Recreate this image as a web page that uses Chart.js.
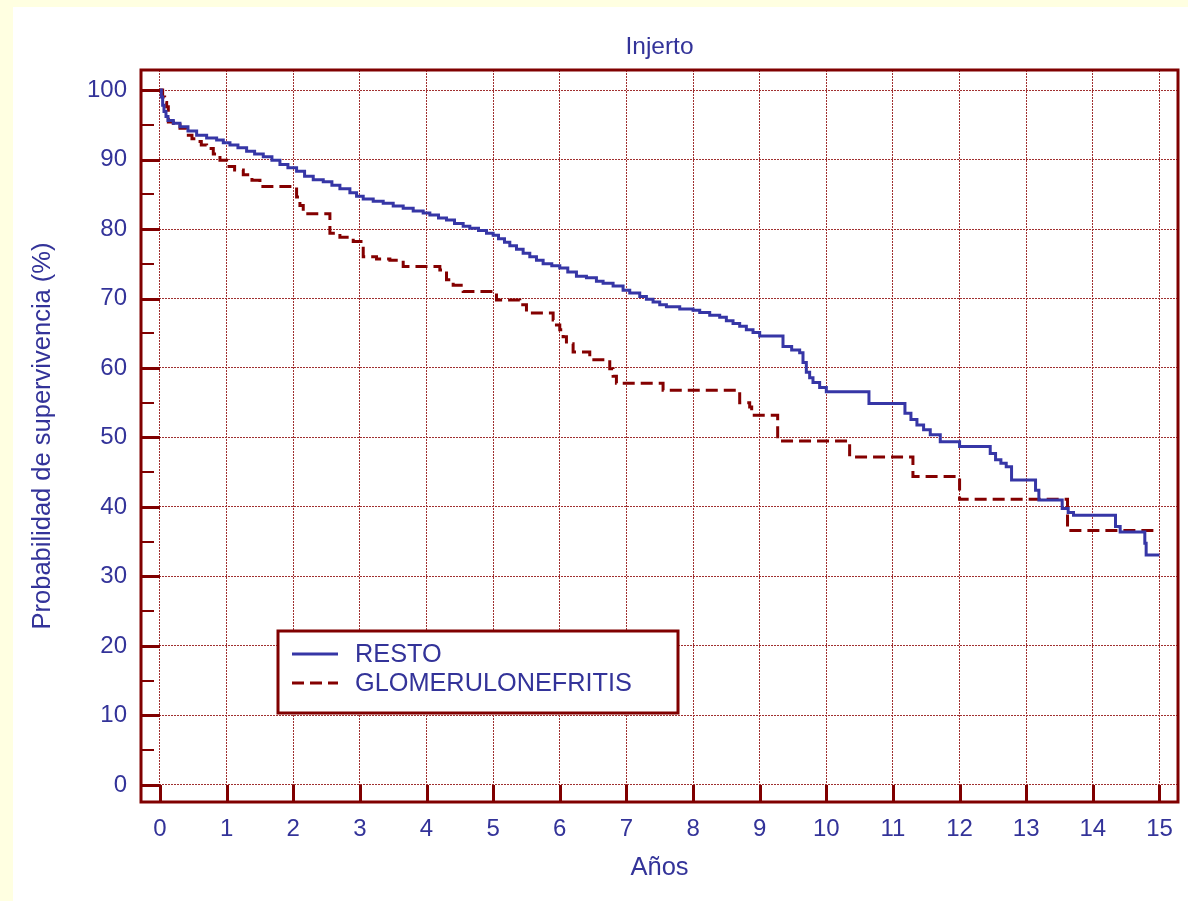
<!DOCTYPE html>
<html>
<head>
<meta charset="utf-8">
<title>Injerto</title>
<script src="https://cdn.jsdelivr.net/npm/chart.js@4.4.0/dist/chart.umd.min.js"></script>
<style>
  html, body { margin: 0; padding: 0; background: #ffffe1; }
  #panel { position: absolute; left: 13px; top: 7px; width: 1175px; height: 894px; background: #fff; }
  canvas { display: block; }
</style>
</head>
<body>
<div id="panel"><canvas id="myChart" width="1175" height="894"></canvas></div>
<script>
// Kaplan-Meier steps: time (years) and survival (%) after each drop
const restoYears = [0, 0.02, 0.04, 0.06, 0.09, 0.12, 0.2, 0.3, 0.42, 0.55, 0.7, 0.85, 0.95, 1.05, 1.17, 1.3,
  1.42, 1.55, 1.68, 1.8, 1.92, 2.05, 2.17, 2.3, 2.45, 2.58, 2.7, 2.85, 2.95, 3.05, 3.2, 3.35, 3.5, 3.65,
  3.8, 3.95, 4.05, 4.18, 4.3, 4.42, 4.55, 4.65, 4.78, 4.9, 5.0, 5.08, 5.17, 5.25, 5.35, 5.45, 5.55, 5.65,
  5.75, 5.88, 6.0, 6.12, 6.25, 6.4, 6.55, 6.65, 6.8, 6.95, 7.05, 7.2, 7.3, 7.4, 7.5, 7.6, 7.8, 8.0,
  8.1, 8.25, 8.4, 8.5, 8.6, 8.7, 8.8, 8.9, 9.0, 9.35, 9.48, 9.6, 9.65, 9.7, 9.75, 9.8, 9.9, 10.0,
  10.64, 11.18, 11.27, 11.36, 11.46, 11.56, 11.71, 12.0, 12.46, 12.54, 12.62, 12.7, 12.78, 13.14, 13.19,
  13.54, 13.63, 13.71, 14.34, 14.41, 14.78, 14.8, 15.0];
const restoSurv = [100, 99.0, 97.8, 96.9, 96.2, 95.6, 95.2, 94.7, 94.1, 93.5, 93.1, 92.8, 92.4, 92.1, 91.7, 91.2,
  90.8, 90.4, 89.9, 89.3, 88.8, 88.3, 87.6, 87.1, 86.8, 86.3, 85.8, 85.2, 84.7, 84.3, 84.0, 83.7, 83.3, 83.0,
  82.6, 82.3, 82.0, 81.6, 81.3, 80.8, 80.4, 80.1, 79.8, 79.4, 79.1, 78.6, 78.1, 77.6, 77.1, 76.5, 76.0, 75.5,
  75.0, 74.7, 74.4, 73.8, 73.2, 73.0, 72.5, 72.2, 71.8, 71.2, 70.8, 70.3, 69.9, 69.5, 69.1, 68.8, 68.5, 68.3,
  68.0, 67.6, 67.3, 66.8, 66.4, 66.0, 65.5, 65.1, 64.6, 63.1, 62.6, 62.2, 60.8, 59.4, 58.6, 57.9, 57.2, 56.6,
  54.9, 53.5, 52.6, 51.8, 51.1, 50.4, 49.4, 48.7, 47.7, 46.8, 46.3, 45.8, 43.9, 42.4, 41.0,
  39.8, 39.2, 38.8, 37.2, 36.4, 34.8, 33.1, 33.1];

const gloYears = [0, 0.04, 0.07, 0.1, 0.125, 0.2, 0.3, 0.4, 0.48, 0.55, 0.62, 0.7, 0.8, 0.9, 1.0, 1.12, 1.25,
  1.38, 1.5, 2.05, 2.1, 2.15, 2.55, 2.7, 2.9, 3.05, 3.25, 3.45, 3.65, 4.2, 4.3, 4.4, 4.55, 5.05, 5.4, 5.5,
  5.9, 5.95, 6.0, 6.05, 6.1, 6.2, 6.45, 6.75, 6.8, 6.85, 7.55, 8.7, 8.85, 8.88, 9.27, 10.35, 11.3, 12.0,
  13.62, 15.0];
const gloSurv = [100, 99.0, 98.2, 97.6, 95.4, 95.0, 94.5, 93.5, 93.0, 92.6, 92.1, 91.6, 90.8, 89.9, 89.0, 88.5, 87.8,
  87.0, 86.1, 84.6, 83.4, 82.2, 79.4, 78.8, 78.2, 76.0, 75.7, 75.5, 74.6, 74.1, 72.7, 71.9, 71.0, 69.8, 69.1, 67.9,
  66.9, 66.2, 65.5, 64.5, 63.5, 62.3, 61.2, 59.9, 58.8, 57.8, 56.8, 55.0, 54.4, 53.2, 49.5, 47.2, 44.4, 41.1,
  36.6, 36.6];

const seriesLabels = ["RESTO", "GLOMERULONEFRITIS"];
const xTickValues = [0, 1, 2, 3, 4, 5, 6, 7, 8, 9, 10, 11, 12, 13, 14, 15];
const yTickValues = [0, 10, 20, 30, 40, 50, 60, 70, 80, 90, 100];
const yMinorTicks = [5, 15, 25, 35, 45, 55, 65, 75, 85, 95];

const TEXT = "#333399";
const FRAME = "#800000";
const GRID = "#a03030";
const BLUE = "#3636a6";
const RED = "#840000";
const FONT = "'Liberation Sans', Arial, sans-serif";

function toPoints(xs, ys) {
  return xs.map((t, i) => ({ x: t, y: ys[i] }));
}

// frame, thick tick marks and the boxed legend
const frameAndLegend = {
  id: "frameAndLegend",
  afterDatasetsDraw(chart) {
    const { ctx, chartArea: a, scales } = chart;
    const x0 = scales.x.getPixelForValue(0);
    const y0 = scales.y.getPixelForValue(0);
    const seg = (x1, y1, x2, y2) => {
      ctx.beginPath();
      ctx.moveTo(x1, y1);
      ctx.lineTo(x2, y2);
      ctx.stroke();
    };
    ctx.save();
    ctx.strokeStyle = FRAME;
    ctx.setLineDash([]);
    ctx.lineWidth = 3;
    yTickValues.forEach(function (v) {
      const py = Math.round(scales.y.getPixelForValue(v)) + 0.5;
      seg(a.left, py, x0, py);
    });
    xTickValues.forEach(function (v) {
      const px = Math.round(scales.x.getPixelForValue(v)) + 0.5;
      seg(px, a.bottom, px, y0);
    });
    ctx.lineWidth = 2;
    yMinorTicks.forEach(function (v) {
      const py = Math.round(scales.y.getPixelForValue(v));
      seg(a.left, py, a.left + 13, py);
    });
    ctx.lineWidth = 3;
    ctx.strokeRect(a.left, a.top, a.right - a.left, a.bottom - a.top);

    // legend
    const lx = a.left + 137, ly = a.bottom - 171, lw = 400, lh = 82;
    ctx.fillStyle = "#fff";
    ctx.fillRect(lx, ly, lw, lh);
    ctx.strokeRect(lx, ly, lw, lh);
    ctx.font = "25.3px " + FONT;
    ctx.textBaseline = "middle";
    chart.data.datasets.forEach(function (ds, i) {
      const yy = ly + 23 + i * 29;
      ctx.strokeStyle = ds.borderColor;
      ctx.lineWidth = ds.borderWidth;
      ctx.setLineDash(ds.borderDash || []);
      seg(lx + 14, yy, lx + 60, yy);
      ctx.fillStyle = TEXT;
      ctx.fillText(ds.label, lx + 77, yy + 1);
    });
    ctx.restore();
  }
};

const ctx = document.getElementById("myChart").getContext("2d");
new Chart(ctx, {
  type: "line",
  data: {
    datasets: [
      {
        label: seriesLabels[0],
        data: toPoints(restoYears, restoSurv),
        borderColor: BLUE,
        borderWidth: 3,
        pointRadius: 0,
        stepped: true,
        fill: false,
      },
      {
        label: seriesLabels[1],
        data: toPoints(gloYears, gloSurv),
        borderColor: RED,
        borderWidth: 3,
        borderDash: [12, 6],
        pointRadius: 0,
        stepped: true,
        fill: false,
      },
    ],
  },
  options: {
    responsive: false,
    animation: false,
    devicePixelRatio: 1,
    layout: { padding: { left: 0, right: 10, top: 0, bottom: 0 } },
    plugins: {
      legend: { display: false },
      tooltip: { enabled: false },
      title: {
        display: true,
        text: "Injerto",
        fullSize: false,
        color: TEXT,
        font: { family: FONT, size: 24.5, weight: "normal", lineHeight: 1.2 },
        padding: { top: 25.3, bottom: 8.3 },
      },
    },
    scales: {
      x: {
        type: "linear",
        min: -0.285,
        max: 15.278,
        afterBuildTicks: function (axis) {
          axis.ticks = xTickValues.map((v) => ({ value: v }));
        },
        afterFit: function (axis) {
          axis.height = 99;
        },
        grid: { color: GRID, lineWidth: 1, drawTicks: false, tickLength: 0 },
        border: { display: false, dash: [2, 1] },
        ticks: { color: TEXT, padding: 12.6, maxRotation: 0, font: { family: FONT, size: 24 } },
        title: {
          display: true,
          text: "Años",
          color: TEXT,
          font: { family: FONT, size: 25.5 },
          padding: { top: 0, bottom: 17.7 },
        },
      },
      y: {
        type: "linear",
        min: -2.45,
        max: 102.88,
        afterBuildTicks: function (axis) {
          axis.ticks = yTickValues.map((v) => ({ value: v }));
        },
        afterFit: function (axis) {
          axis.width = 128;
        },
        grid: { color: GRID, lineWidth: 1, drawTicks: false, tickLength: 0 },
        border: { display: false, dash: [2, 1] },
        ticks: { color: TEXT, padding: 14, font: { family: FONT, size: 24 } },
        title: {
          display: true,
          text: "Probabilidad de supervivencia (%)",
          color: TEXT,
          font: { family: FONT, size: 25.5 },
          padding: { top: 14.7, bottom: 0 },
        },
      },
    },
  },
  plugins: [frameAndLegend],
});
</script>
</body>
</html>
